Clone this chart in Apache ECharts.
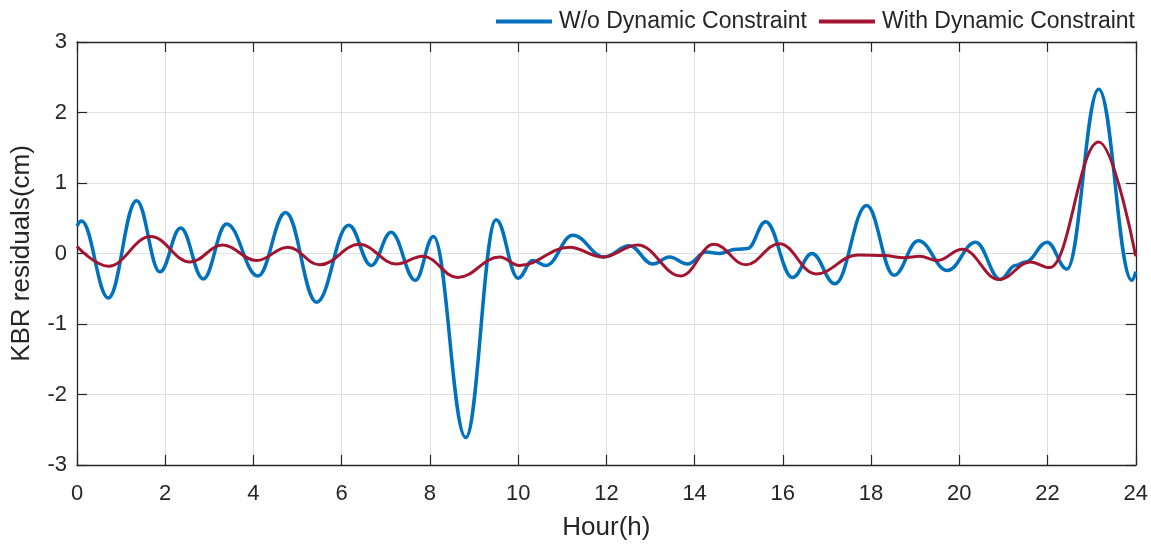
<!DOCTYPE html>
<html>
<head>
<meta charset="utf-8">
<style>
  html, body { margin: 0; padding: 0; background: #ffffff; }
  #chart { width: 1151px; height: 546px; }
</style>
<script src="https://cdn.jsdelivr.net/npm/echarts@6/dist/echarts.min.js"></script>
</head>
<body>
<div id="chart"></div>
<script>
// KBR residuals over one day, with and without the dynamic constraint.
// Points are the turning points of each trace (hour, residual in cm).
const seriesNames = ['W/o Dynamic Constraint', 'With Dynamic Constraint'];

const blueHours = [0, 0.1, 0.71, 1.35, 1.88, 2.35, 2.86, 3.39, 4.1, 4.73, 5.43, 6.16, 6.67, 7.12, 7.67, 8.08,
  8.81, 9.5, 10.0, 10.33, 10.63, 11.24, 11.95, 12.52, 13.05, 13.43, 13.84, 14.26, 14.56, 14.94, 15.2,
  15.61, 16.22, 16.66, 17.18, 17.9, 18.52, 19.07, 19.73, 20.37, 20.93, 21.27, 21.5, 21.99, 22.44,
  23.16, 23.91, 24];
const blueValues = [0.39, 0.46, -0.63, 0.75, -0.26, 0.36, -0.36, 0.42, -0.32, 0.58, -0.69, 0.40, -0.17, 0.30, -0.38, 0.24,
  -2.61, 0.48, -0.35, -0.10, -0.17, 0.26, -0.05, 0.11, -0.15, -0.05, -0.15, 0.02, 0.0, 0.06, 0.07,
  0.45, -0.34, 0.0, -0.43, 0.68, -0.31, 0.18, -0.24, 0.16, -0.37, -0.17, -0.12, 0.16, -0.22,
  2.33, -0.38, -0.26];

const redHours = [0, 0.71, 1.67, 2.56, 3.3, 4.07, 4.78, 5.5, 6.4, 7.24, 7.84, 8.63, 9.58, 10.03, 11.16,
  11.92, 12.71, 13.69, 14.44, 15.16, 15.92, 16.75, 17.7, 18.3, 18.75, 19.1, 19.5, 20.07, 20.9, 21.61,
  22.05, 23.16, 24];
const redValues = [0.10, -0.18, 0.24, -0.12, 0.12, -0.10, 0.09, -0.16, 0.13, -0.15, -0.04, -0.34, -0.05, -0.17, 0.09,
  -0.05, 0.12, -0.32, 0.13, -0.16, 0.14, -0.29, -0.02, -0.03, -0.06, -0.04, -0.10, 0.06, -0.37, -0.12,
  -0.20, 1.58, -0.04];

const xTicks = { min: 0, max: 24, interval: 2 };
const yTicks = { min: -3, max: 3, interval: 1 };

const pairs = (xs, ys) => xs.map((x, i) => [x, ys[i]]);

const textColor = '#262626';
const gridColor = '#e0e0e0';
const fontFamily = '"Liberation Sans", Arial, sans-serif';

const chart = echarts.init(document.getElementById('chart'), null, { renderer: 'canvas' });

// Box frame: top and right axes carry only the line and inward ticks.
const frameAxis = {
  axisLine: { show: true, onZero: false, lineStyle: { color: textColor, width: 1.3 } },
  axisTick: { show: true, inside: true, length: 10, lineStyle: { color: textColor, width: 1.2 } },
  splitLine: { show: false },
  axisLabel: { show: false }
};

chart.setOption({
  animation: false,
  backgroundColor: '#ffffff',
  grid: { left: 77, right: 14, top: 42, bottom: 78 },
  legend: {
    top: 5,
    right: 11,
    itemGap: 12,
    itemWidth: 56,
    itemHeight: 4,
    icon: 'rect',
    textStyle: { fontFamily, fontSize: 23, color: textColor, padding: [0, 0, 0, 2] },
    data: seriesNames
  },
  xAxis: [
    {
      type: 'value',
      min: xTicks.min, max: xTicks.max, interval: xTicks.interval,
      name: 'Hour(h)',
      nameLocation: 'middle',
      nameGap: 50,
      nameTextStyle: { fontFamily, fontSize: 26, color: textColor },
      axisLine: { show: true, onZero: false, lineStyle: { color: textColor, width: 1.3 } },
      axisTick: { show: true, inside: true, length: 10, lineStyle: { color: textColor, width: 1.2 } },
      axisLabel: { fontFamily, fontSize: 22, color: textColor, margin: 18 },
      splitLine: { show: true, lineStyle: { color: gridColor, width: 1 } }
    },
    Object.assign({
      type: 'value', position: 'top',
      min: xTicks.min, max: xTicks.max, interval: xTicks.interval
    }, frameAxis)
  ],
  yAxis: [
    {
      type: 'value',
      min: yTicks.min, max: yTicks.max, interval: yTicks.interval,
      name: 'KBR residuals(cm)',
      nameLocation: 'middle',
      nameRotate: 90,
      nameGap: 42,
      nameTextStyle: { fontFamily, fontSize: 26, color: textColor },
      axisLine: { show: true, onZero: false, lineStyle: { color: textColor, width: 1.3 } },
      axisTick: { show: true, inside: true, length: 10, lineStyle: { color: textColor, width: 1.2 } },
      axisLabel: { fontFamily, fontSize: 22, color: textColor, margin: 10 },
      splitLine: { show: true, lineStyle: { color: gridColor, width: 1 } }
    },
    Object.assign({
      type: 'value', position: 'right',
      min: yTicks.min, max: yTicks.max, interval: yTicks.interval
    }, frameAxis)
  ],
  series: [
    {
      name: seriesNames[0],
      type: 'line',
      xAxisIndex: 0, yAxisIndex: 0,
      data: pairs(blueHours, blueValues),
      showSymbol: false,
      smooth: 0.4,
      smoothMonotone: 'x',
      color: '#0072BD',
      lineStyle: { color: '#0072BD', width: 3.5 },
      z: 3
    },
    {
      name: seriesNames[1],
      type: 'line',
      xAxisIndex: 0, yAxisIndex: 0,
      data: pairs(redHours, redValues),
      showSymbol: false,
      smooth: 0.4,
      smoothMonotone: 'x',
      color: '#A2142F',
      lineStyle: { color: '#A2142F', width: 3 },
      z: 4
    }
  ]
});
</script>
</body>
</html>
